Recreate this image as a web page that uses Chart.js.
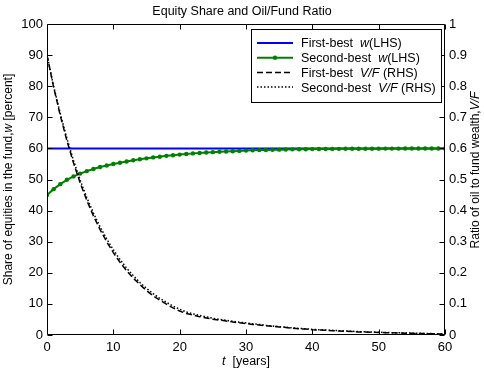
<!DOCTYPE html>
<html>
<head>
<meta charset="utf-8">
<script src="https://cdn.jsdelivr.net/npm/chart.js@4.4.1/dist/chart.umd.min.js"></script>
<style>
    html, body { margin: 0; padding: 0; background: #fff; }
</style>
</head>
<body>
<canvas id="grafica" width="484" height="376"></canvas>
<script>
// Equity share (LHS) and oil/fund ratio (RHS), first- vs second-best.

var years = [0, 1, 2, 3, 4, 5, 6, 7, 8, 9, 10, 11, 12, 13, 14, 15, 16, 17, 18, 19,
    20, 21, 22, 23, 24, 25, 26, 27, 28, 29, 30, 31, 32, 33, 34, 35, 36, 37, 38, 39,
    40, 41, 42, 43, 44, 45, 46, 47, 48, 49, 50, 51, 52, 53, 54, 55, 56, 57, 58, 59, 60];

var wFirstBest = [60, 60, 60, 60, 60, 60, 60, 60, 60, 60, 60, 60, 60, 60, 60, 60, 60, 60, 60, 60,
    60, 60, 60, 60, 60, 60, 60, 60, 60, 60, 60, 60, 60, 60, 60, 60, 60, 60, 60, 60,
    60, 60, 60, 60, 60, 60, 60, 60, 60, 60, 60, 60, 60, 60, 60, 60, 60, 60, 60, 60, 60];

var wSecondBest = [45.0, 46.9, 48.5, 49.9, 51.0, 51.9, 52.7, 53.4, 54.0, 54.5,
    55.0, 55.4, 55.8, 56.2, 56.5, 56.8, 57.1, 57.3, 57.6, 57.8,
    58.0, 58.2, 58.4, 58.5, 58.7, 58.8, 58.9, 59.0, 59.1, 59.2,
    59.3, 59.4, 59.45, 59.5, 59.55, 59.6, 59.65, 59.7, 59.72, 59.75,
    59.78, 59.8, 59.82, 59.84, 59.85, 59.87, 59.88, 59.89, 59.9, 59.91,
    59.92, 59.93, 59.94, 59.94, 59.95, 59.96, 59.96, 59.97, 59.97, 59.98, 59.98];

var vfFirstBest = [0.900, 0.797, 0.706, 0.625, 0.553, 0.489, 0.433, 0.383, 0.339, 0.300,
    0.265, 0.234, 0.207, 0.183, 0.162, 0.143, 0.126, 0.112, 0.099, 0.087,
    0.077, 0.069, 0.064, 0.059, 0.055, 0.051, 0.048, 0.045, 0.042, 0.039,
    0.037, 0.034, 0.032, 0.030, 0.028, 0.026, 0.024, 0.022, 0.020, 0.019,
    0.017, 0.016, 0.015, 0.014, 0.013, 0.012, 0.011, 0.010, 0.0095, 0.009,
    0.008, 0.0075, 0.007, 0.0065, 0.006, 0.0055, 0.005, 0.0045, 0.004, 0.0035, 0.003];

var vfSecondBest = [0.900, 0.800, 0.712, 0.632, 0.561, 0.498, 0.442, 0.392, 0.348, 0.309,
    0.274, 0.243, 0.215, 0.191, 0.169, 0.150, 0.133, 0.118, 0.105, 0.093,
    0.083, 0.074, 0.068, 0.063, 0.058, 0.054, 0.050, 0.047, 0.044, 0.041,
    0.039, 0.036, 0.034, 0.031, 0.029, 0.027, 0.025, 0.023, 0.021, 0.020,
    0.018, 0.017, 0.016, 0.015, 0.014, 0.013, 0.012, 0.011, 0.010, 0.0095,
    0.009, 0.008, 0.0075, 0.007, 0.0065, 0.006, 0.0055, 0.005, 0.0045, 0.004, 0.0035];

var FONT = '"Liberation Sans", Arial, sans-serif';

// Convierte una serie en puntos {x, y}.
function toPoints(values) {
    return values.map(function (v, i) { return { x: years[i], y: v }; });
}

// Dibuja un texto con partes en cursiva, a partir de x (o centrado en x).
function drawRuns(ctx, runs, x, y, size, align) {
    var total = 0;
    runs.forEach(function (r) {
        ctx.font = (r.i ? 'italic ' : '') + size + 'px ' + FONT;
        r.w = ctx.measureText(r.t).width;
        total += r.w;
    });
    var cx = align === 'center' ? x - total / 2 : x;
    runs.forEach(function (r) {
        ctx.font = (r.i ? 'italic ' : '') + size + 'px ' + FONT;
        ctx.fillText(r.t, cx, y);
        cx += r.w;
    });
}

var legendRows = [
    [{ t: 'First-best  ' }, { t: 'w', i: true }, { t: '(LHS)' }],
    [{ t: 'Second-best  ' }, { t: 'w', i: true }, { t: '(LHS)' }],
    [{ t: 'First-best  ' }, { t: 'V/F', i: true }, { t: ' (RHS)' }],
    [{ t: 'Second-best  ' }, { t: 'V/F', i: true }, { t: ' (RHS)' }]
];

// Marco estilo MATLAB, marcas hacia dentro, titulos de ejes y leyenda.
var matlabFrame = {
    id: 'matlabFrame',
    afterDatasetsDraw: function (chart) {
        var ctx = chart.ctx;
        var a = chart.chartArea;
        var L = Math.round(a.left) + 0.5, R = Math.round(a.right) - 0.5;
        var T = Math.round(a.top) + 0.5, B = Math.round(a.bottom) - 0.5;
        var sx = chart.scales.x, sy = chart.scales.y, sy2 = chart.scales.y2;
        ctx.save();
        ctx.strokeStyle = '#000';
        ctx.lineWidth = 1;
        ctx.setLineDash([]);
        ctx.beginPath();
        ctx.rect(L, T, R - L, B - T);
        sx.ticks.forEach(function (t) {
            var px = Math.round(sx.getPixelForValue(t.value)) + 0.5;
            ctx.moveTo(px, B); ctx.lineTo(px, B - 5);
            ctx.moveTo(px, T); ctx.lineTo(px, T + 5);
        });
        sy.ticks.forEach(function (t) {
            var py = Math.round(sy.getPixelForValue(t.value)) + 0.5;
            ctx.moveTo(L, py); ctx.lineTo(L + 5, py);
        });
        sy2.ticks.forEach(function (t) {
            var py = Math.round(sy2.getPixelForValue(t.value)) + 0.5;
            ctx.moveTo(R, py); ctx.lineTo(R - 5, py);
        });
        ctx.stroke();

        // leyenda
        var lx = 251.5, ly = 29.5, lw = 190, lh = 73;
        ctx.fillStyle = '#fff';
        ctx.fillRect(lx, ly, lw, lh);
        ctx.strokeRect(lx, ly, lw, lh);
        ctx.textBaseline = 'middle';
        chart.data.datasets.forEach(function (ds, i) {
            var y = 43 + i * 14.7;
            ctx.strokeStyle = ds.borderColor;
            ctx.lineWidth = ds.borderWidth;
            ctx.setLineDash(ds.borderDash || []);
            ctx.beginPath();
            ctx.moveTo(257, y); ctx.lineTo(293, y);
            ctx.stroke();
            ctx.setLineDash([]);
            if (ds.pointRadius > 0) {
                ctx.fillStyle = ds.pointBackgroundColor;
                ctx.beginPath();
                ctx.arc(275, y, ds.pointRadius, 0, Math.PI * 2);
                ctx.fill();
            }
            ctx.fillStyle = '#000';
            drawRuns(ctx, legendRows[i], 301, y + 1, 12.5, 'left');
        });

        // titulos de ejes
        ctx.fillStyle = '#000';
        ctx.textBaseline = 'middle';
        drawRuns(ctx, [{ t: 't', i: true }, { t: '  [years]' }], (a.left + a.right) / 2, 362, 12.5, 'center');
        ctx.save();
        ctx.translate(9, (a.top + a.bottom) / 2);
        ctx.rotate(-Math.PI / 2);
        drawRuns(ctx, [{ t: 'Share of equities in the fund,' }, { t: 'w', i: true }, { t: ' [percent]' }], 0, 0, 12, 'center');
        ctx.restore();
        ctx.save();
        ctx.translate(476, 170);
        ctx.rotate(-Math.PI / 2);
        drawRuns(ctx, [{ t: 'Ratio of oil to fund wealth,' }, { t: 'V/F', i: true }], 0, 0, 12, 'center');
        ctx.restore();
        ctx.restore();
    }
};

var tickFont = { family: FONT, size: 13 };

var chart = new Chart(document.getElementById('grafica').getContext('2d'), {
    type: 'line',
    data: {
        datasets: [{
            label: 'First-best w(LHS)',
            data: toPoints(wFirstBest),
            yAxisID: 'y',
            borderColor: '#0000ff',
            borderWidth: 2,
            pointRadius: 0,
            order: 4
        }, {
            label: 'Second-best w(LHS)',
            data: toPoints(wSecondBest),
            yAxisID: 'y',
            borderColor: '#008000',
            borderWidth: 2,
            pointRadius: 2.2,
            pointBackgroundColor: '#008000',
            pointBorderWidth: 0,
            order: 3
        }, {
            label: 'First-best V/F (RHS)',
            data: toPoints(vfFirstBest),
            yAxisID: 'y2',
            borderColor: '#000',
            borderWidth: 1.5,
            borderDash: [6, 3],
            pointRadius: 0,
            order: 2
        }, {
            label: 'Second-best V/F (RHS)',
            data: toPoints(vfSecondBest),
            yAxisID: 'y2',
            borderColor: '#000',
            borderWidth: 1.5,
            borderDash: [1.5, 2],
            pointRadius: 0,
            order: 1
        }]
    },
    options: {
        responsive: false,
        animation: false,
        layout: { padding: 0 },
        elements: { line: { tension: 0 } },
        plugins: {
            legend: { display: false },
            tooltip: { enabled: false },
            title: {
                display: true,
                text: 'Equity Share and Oil/Fund Ratio',
                color: '#000',
                font: { family: FONT, size: 12.5, weight: 'normal' },
                padding: { top: 4, bottom: 5 }
            }
        },
        scales: {
            x: {
                type: 'linear', min: 0, max: 60,
                ticks: { stepSize: 10, padding: 5, color: '#000', font: tickFont, maxRotation: 0 },
                grid: { display: false, drawTicks: false },
                border: { display: false },
                afterFit: function (s) { s.height = 41; }
            },
            y: {
                position: 'left', min: 0, max: 100,
                ticks: { stepSize: 10, padding: 4, color: '#000', font: tickFont },
                grid: { display: false, drawTicks: false },
                border: { display: false },
                afterFit: function (s) { s.width = 47; }
            },
            y2: {
                position: 'right', min: 0, max: 1,
                ticks: {
                    stepSize: 0.1, padding: 4, color: '#000', font: tickFont,
                    callback: function (v) { return (v === 0 || v === 1) ? String(v) : v.toFixed(1); }
                },
                grid: { display: false, drawTicks: false },
                border: { display: false },
                afterFit: function (s) { s.width = 39; }
            }
        }
    },
    plugins: [matlabFrame]
});
</script>
</body>
</html>
